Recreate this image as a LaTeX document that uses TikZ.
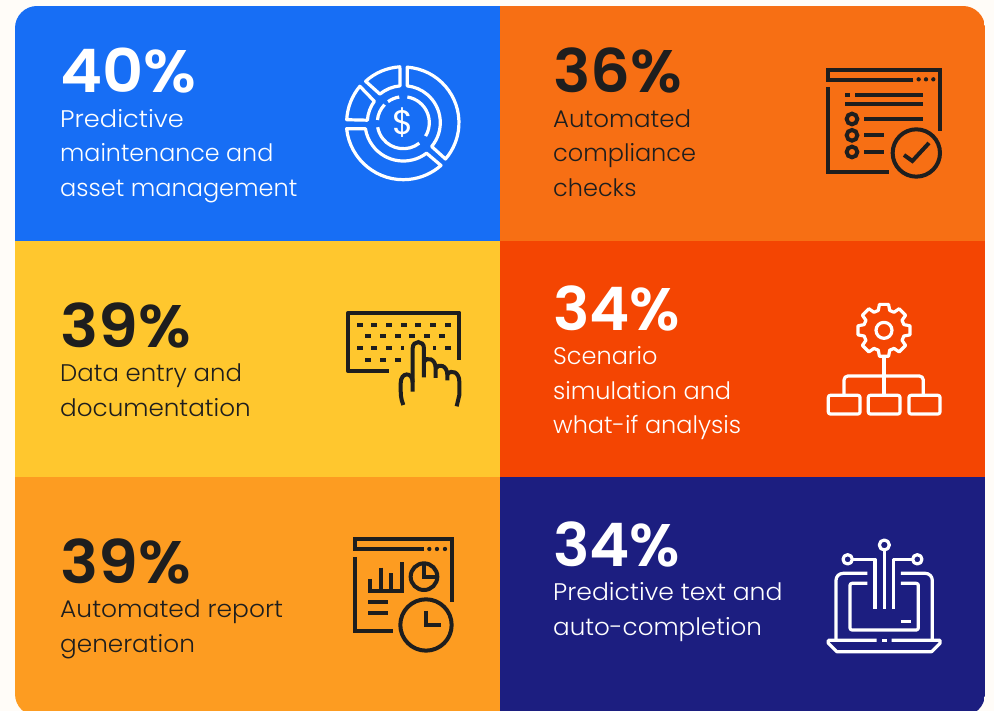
\documentclass[tikz,border=0pt]{standalone}
\usepackage{fontspec}
\usepackage{graphicx}
\setmainfont{Poppins}
\newfontfamily\bodyf{Poppins Light}
\newfontfamily\numf{Poppins SemiBold}
\newcommand{\sx}[2]{\scalebox{#1}[1]{#2}}
\definecolor{bgc}{HTML}{FFFCF8}
\definecolor{pblue}{HTML}{176EF5}
\definecolor{porange}{HTML}{F76F14}
\definecolor{pyellow}{HTML}{FFC72E}
\definecolor{pred}{HTML}{F44502}
\definecolor{pamber}{HTML}{FD9C21}
\definecolor{pnavy}{HTML}{1C1E80}
\definecolor{ink}{HTML}{1E1E1E}
\tikzset{
 pct/.style={anchor=base west,inner sep=0pt,font=\numf\fontsize{60}{60}\selectfont},
 body/.style={anchor=base west,inner sep=0pt,font=\bodyf\fontsize{24}{24}\selectfont},
 iconw/.style={draw=white,line width=3.2pt,line join=round},
 iconk/.style={draw=ink,line width=4pt,line join=miter},
 zoomed/.style={x=0.3333pt,y=-0.3333pt},
}
\begin{document}
\begin{tikzpicture}[x=1pt,y=-1pt]
\useasboundingbox (0,0) rectangle (994,711);
\fill[bgc] (0,0) rectangle (994,711);
\begin{scope}
\clip[rounded corners=22pt] (15,6) rectangle (985,716);
\fill[pblue] (15,6) rectangle (500,241);
\fill[porange] (500,6) rectangle (985,241);
\fill[pyellow] (15,241) rectangle (500,477);
\fill[pred] (500,241) rectangle (985,477);
\fill[pamber] (15,477) rectangle (500,716);
\fill[pnavy] (500,477) rectangle (985,716);
\end{scope}
% Texts
\node[pct,text=white] (p1) at (60,92.5) {\sx{1.063}{40\%}};
\node[body,text=white] (p1a) at (60,128) {\sx{1.07}{Predictive}};
\node[body,text=white] (p1b) at (60,162) {\sx{0.99}{maintenance and}};
\node[body,text=white] (p1c) at (60,197) {asset management};
\node[pct,text=ink] (p2) at (553,92.5) {\sx{1.04}{36\%}};
\node[body,text=ink] (p2a) at (553,128) {\sx{1.02}{Automated}};
\node[body,text=ink] (p2b) at (553,162) {compliance};
\node[body,text=ink] (p2c) at (553,197) {checks};
\node[pct,text=ink] (p3) at (60,347.5) {\sx{1.06}{39\%}};
\node[body,text=ink] (p3a) at (60,382) {\sx{1.015}{Data entry and}};
\node[body,text=ink] (p3b) at (60,417) {\sx{1.027}{documentation}};
\node[pct,text=white] (p4) at (553,330.5) {\sx{1.015}{34\%}};
\node[body,text=white] (p4a) at (553,365) {Scenario};
\node[body,text=white] (p4b) at (553,400) {simulation and};
\node[body,text=white] (p4c) at (553,434) {what-if analysis};
\node[pct,text=ink] (p5) at (60,583) {\sx{1.06}{39\%}};
\node[body,text=ink] (p5a) at (60,617) {\sx{1.04}{Automated report}};
\node[body,text=ink] (p5b) at (60,652) {\sx{1.03}{generation}};
\node[pct,text=white] (p6) at (553,566) {\sx{1.015}{34\%}};
\node[body,text=white] (p6a) at (553,600) {\sx{1.045}{Predictive text and}};
\node[body,text=white] (p6b) at (553,635) {\sx{1.025}{auto-completion}};
% Icon 1
\begin{scope}[shift={(403.3,122.7)},zoomed]
\draw[iconw] (-86:167) arc[start angle=-86,end angle=40.7,radius=167] -- (40:111) arc[start angle=40,end angle=-84,radius=111] -- cycle;
\draw[iconw] (174:171) arc[start angle=174,end angle=48.6,radius=171] -- (52.7:115) arc[start angle=52.7,end angle=171,radius=115] -- cycle;
\draw[iconw] (183:170) arc[start angle=183,end angle=220,radius=170] -- (216.5:108) arc[start angle=216.5,end angle=184,radius=108] -- cycle;
\draw[iconw] (227.7:168) arc[start angle=227.7,end angle=266.5,radius=168] -- (265:111) arc[start angle=265,end angle=230.7,radius=111] -- cycle;
\draw[iconw] (-81:78) arc[start angle=-81,end angle=31,radius=78];
\draw[iconw] (52:78) arc[start angle=52,end angle=170,radius=78];
\draw[iconw] (186:78) arc[start angle=186,end angle=224,radius=78];
\draw[iconw] (234:78) arc[start angle=234,end angle=261,radius=78];
\node[inner sep=0pt,text=white,font=\rmfamily\fontsize{34}{34}\selectfont] (dollar) at (0,0) {\$};
\end{scope}
% Icon 2
\begin{scope}[shift={(810,50)},zoomed]
\draw[iconk] (310,90) -- (55,90) -- (55,60) -- (390,60) -- (390,242);
\draw[iconk] (55,112) -- (55,366) -- (237,366);
\foreach \x in {326,348,370}{\fill[ink] (\x,88) circle[radius=6.5];}
\draw[iconk] (105,135) -- (120,135) (135,135) -- (338,135) (105,163) -- (338,163);
\foreach \y in {207,256,306}{\draw[iconk] (126,\y) circle[radius=16];}
\draw[iconk] (163,207) -- (338,207) (163,256) -- (222,256) (163,306) -- (222,306);
\draw[iconk] (319,309) circle[radius=71];
\draw[iconk] (282,315) -- (307,333) -- (357,279);
\end{scope}
% Icon 3
\begin{scope}[shift={(330,295)},zoomed]
\draw[iconk,line join=round] (177,229) -- (55,229) -- (55,53) -- (388,53) -- (388,195);
\foreach \x in {89,133,177,221,265,309,353}{\fill[ink] (\x-9,83) rectangle (\x+9,95);}
\foreach \x in {115,159,203,247,291,335}{\fill[ink] (\x-9,118) rectangle (\x+9,130);}
\foreach \x in {89,133,177,353}{\fill[ink] (\x-9,153) rectangle (\x+9,165);}
\foreach \x in {217,313}{\fill[ink] (\x-4,153) rectangle (\x+4,165);}
\foreach \x in {115,159,203}{\fill[ink] (\x-9,188) rectangle (\x+9,200);}
\draw[iconk] (248,290) -- (248,160) .. controls (248,135) and (282,135) .. (282,160) -- (282,247);
\draw[iconk] (282,200) .. controls (290,185) and (317,190) .. (317,220) -- (317,249);
\draw[iconk] (317,220) .. controls (325,205) and (352,210) .. (352,240) -- (352,256);
\draw[iconk] (352,238) .. controls (365,222) and (388,232) .. (388,260) -- (388,300) -- (380,334);
\draw[iconk] (220,330) .. controls (212,310) and (212,300) .. (212,265) .. controls (212,230) and (248,230) .. (248,262);
\end{scope}
% Icon 4
\begin{scope}[shift={(810,290)},zoomed]
\begin{scope}[shift={(222,121)}]
\draw[iconw] (-10:79)
 \foreach \a in {0,45,...,315}{ -- (\a-10:79) -- (\a+10:79) -- (\a+16:62) -- (\a+29:62) } -- cycle;
\draw[iconw] (0,0) circle[radius=24];
\end{scope}
\draw[iconw] (222,200) -- (222,318);
\draw[iconw,rounded corners=4pt] (102,318) -- (102,258) -- (340,258) -- (340,318);
\draw[iconw,rounded corners=2pt] (55,316) rectangle (150,372);
\draw[iconw,rounded corners=2pt] (175,316) rectangle (270,372);
\draw[iconw,rounded corners=2pt] (297,316) rectangle (390,372);
\end{scope}
% Icon 5
\begin{scope}[shift={(340,525)},zoomed]
\draw[iconk] (252,73) -- (46,73) -- (46,43) -- (336,43) -- (336,232);
\draw[iconk] (46,97) -- (46,317) -- (160,317);
\foreach \x in {268,291,315}{\fill[ink] (\x,72) circle[radius=6.5];}
\draw[iconk] (90,162) -- (90,197) -- (185,197) -- (185,110);
\draw[iconk] (122,128) -- (122,197) (154,145) -- (154,197);
\draw[iconk] (252,155) circle[radius=40];
\draw[iconk] (252,115) -- (252,155) -- (292,155);
\draw[iconk] (84,232) -- (145,232) (84,263) -- (145,263);
\draw[iconk] (258,300) circle[radius=77];
\draw[iconk] (258,258) -- (258,300) -- (303,300);
\end{scope}
% Icon 6
\begin{scope}[shift={(815,530)},zoomed]
\draw[iconw] (208,45) circle[radius=15];
\draw[iconw] (208,60) -- (208,238);
\draw[iconw] (98,88) circle[radius=14];
\draw[iconw] (112,88) -- (180,88) -- (180,238);
\draw[iconw] (307,88) circle[radius=14];
\draw[iconw] (293,88) -- (236,88) -- (236,238);
\draw[iconw,rounded corners=7pt] (157,130) -- (63,130) -- (63,328);
\draw[iconw,rounded corners=7pt] (258,130) -- (352,130) -- (352,328);
\draw[iconw,rounded corners=2pt] (157,160) -- (105,160) -- (105,300) -- (310,300) -- (310,160) -- (258,160);
\draw[iconw] (258,274) -- (287,274);
\draw[iconw] (185,331) -- (40,331) -- (40,340) -- (65,365) -- (350,365) -- (375,340) -- (375,331) -- (230,331);
\draw[iconw] (201,331) -- (215,331);
\end{scope}
\end{tikzpicture}
\end{document}
